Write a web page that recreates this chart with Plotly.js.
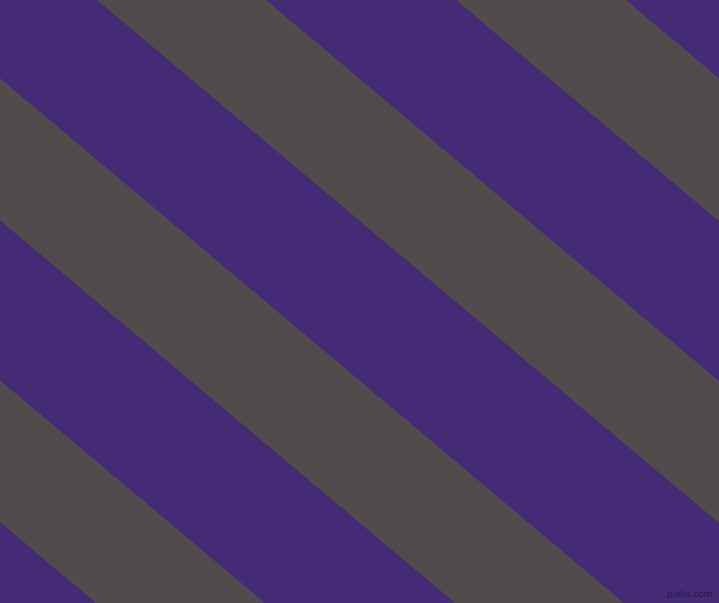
<!DOCTYPE html>
<html>
<head>
<meta charset="utf-8">
<script src="https://cdn.plot.ly/plotly-3.0.1.min.js"></script>
<style>html,body{margin:0;padding:0;background:#452a76;}#chart{width:719px;height:603px;}</style>
</head>
<body>
<div id="chart"></div>
<script>
// Stripe boundaries: x where each grey band meets the top edge (y = 0)
const stripeStarts = [-621, -262, 97, 456];
const stripeEnds   = [-452, -93, 266, 626];
// slope of the stripes (pixels down per pixel right)
const slope = 0.841;
const purple = '#452a76';
const grey = '#514b4b';
const watermark = 'pixlis.com';

const depth = 1200; // how far down each band polygon extends
const traces = stripeStarts.map((s, i) => {
  const e = stripeEnds[i];
  const dx = depth / slope;
  return {
    type: 'scatter',
    mode: 'lines',
    x: [s, e, e + dx, s + dx, s],
    y: [0, 0, depth, depth, 0],
    fill: 'toself',
    fillcolor: grey,
    line: {width: 0, color: grey},
    hoverinfo: 'skip',
    showlegend: false
  };
});

const layout = {
  width: 719,
  height: 603,
  margin: {l: 0, r: 0, t: 0, b: 0, pad: 0},
  paper_bgcolor: purple,
  plot_bgcolor: purple,
  xaxis: {range: [0, 719], visible: false, fixedrange: true},
  yaxis: {range: [603, 0], visible: false, fixedrange: true},
  showlegend: false,
  annotations: [{
    text: watermark,
    xref: 'paper', yref: 'paper',
    x: 0.993, y: 0.003,
    xanchor: 'right', yanchor: 'bottom',
    showarrow: false,
    font: {family: 'DejaVu Sans', size: 9, color: 'rgba(35,22,65,0.9)'}
  }]
};

Plotly.newPlot('chart', traces, layout, {staticPlot: true, displayModeBar: false});
</script>
</body>
</html>
